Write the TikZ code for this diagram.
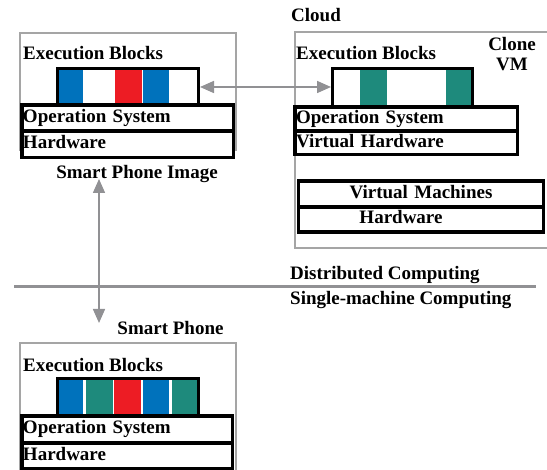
\documentclass[tikz,border=0pt]{standalone}
\usepackage{fontspec}
\setmainfont{Liberation Serif}
\usepackage{tikz}
\usetikzlibrary{arrows.meta,positioning}
\definecolor{blockblue}{RGB}{0,114,188}
\definecolor{blockred}{RGB}{237,28,36}
\definecolor{blockteal}{RGB}{30,138,124}
\definecolor{framegray}{RGB}{165,165,165}
\definecolor{arrowgray}{RGB}{145,145,148}

\begin{document}
\begin{tikzpicture}[x=1pt,y=-1pt,>={Triangle[length=14pt,width=12pt]},
  font=\fontsize{19}{20}\selectfont\bfseries,
  frame/.style={draw=framegray,line width=1.2pt},
  layer/.style={draw,line width=3.5pt,fill=white,outer sep=0pt,inner xsep=1pt,inner ysep=0pt,
    text height=13.5pt,text depth=4.5pt},
  strip/.style={draw,line width=3pt,fill=white,inner sep=0pt,anchor=north west},
  conn/.style={draw=arrowgray,line width=1.6pt,<->},
  lbl/.style={anchor=base west,inner sep=0pt}]
\useasboundingbox (0,0) rectangle (547,470);
% Smart phone image
\draw[frame] (20,33) rectangle (236,150);
\node[lbl] (lexec) at (23,60) {Execution Blocks};
\node[strip,minimum width=141pt,minimum height=36pt] (lstrip) at (56,67.5) {};
\foreach \a/\b/\c in {59/83/blockblue,115/142/blockred,143/169/blockblue}
  \fill[\c] (\a,70.5) rectangle (\b,103.5);
\node[layer,anchor=north west,text width=209.5pt,align=left,minimum height=26pt] (los) at (22,105) {Operation System};
\node[layer,below=0pt of los,text width=209.5pt,align=left,minimum height=26.5pt] (lhw) {Hardware};
\node[anchor=base,inner sep=0pt] (img) at (137,179) {Smart Phone Image};
% Cloud
\node[lbl] (cloud) at (291,22) {Cloud};
\draw[frame] (547,32) -- (295,32) -- (295,248) -- (547,248);
\node[lbl] (rexec) at (296,60) {Execution Blocks};
\node[align=center,inner sep=0pt] (clone) at (512,54) {Clone\\VM};
\node[strip,minimum width=140pt,minimum height=38pt] (rstrip) at (331,67.5) {};
\foreach \a/\b/\c in {360/386.7/blockteal,446/471/blockteal}
  \fill[\c] (\a,70.5) rectangle (\b,105);
\node[layer,anchor=north west,text width=220.5pt,align=left,minimum height=24pt] (ros) at (295,107) {Operation System};
\node[layer,below=0pt of ros,text width=220.5pt,align=left,minimum height=23.5pt] (rvhw) {Virtual Hardware};
\node[layer,anchor=north west,text width=243pt,align=center,minimum height=26pt] (vms) at (298.5,181) {Virtual Machines};
\node[layer,below=0pt of vms,text width=243pt,align=center,minimum height=25pt] (rhw) {\hspace*{-40pt}Hardware};
% offloading arrows
\draw[conn] (lstrip.east) -- (lstrip.east -| rstrip.west);
\coordinate (vtop) at (99,179);
\coordinate (vbot) at (99,323);
\draw[conn] (vtop) -- (vbot);
% divider
\draw[draw=arrowgray,line width=3pt] (14,287) -- (536,287);
\node[lbl] (dist) at (290,280) {Distributed Computing};
\node[lbl] (single) at (290,305) {Single-machine Computing};
% Smart phone
\node[anchor=base,inner sep=0pt] (phone) at (170.5,335) {Smart Phone};
\draw[frame] (20,343) rectangle (236,472);
\node[lbl] (bexec) at (23,372) {Execution Blocks};
\node[strip,minimum width=141pt,minimum height=37.5pt] (bstrip) at (56,377) {};
\foreach \a/\b/\c in {59/83/blockblue,86/113/blockteal,114/141/blockred,143/169/blockblue,172/197/blockteal}
  \fill[\c] (\a,380) rectangle (\b,414);
\node[layer,anchor=north west,text width=208.5pt,align=left,minimum height=27pt] (bos) at (22,416) {Operation System};
\node[layer,below=0pt of bos,text width=208.5pt,align=left,minimum height=25.5pt] (bhw) {Hardware};
\end{tikzpicture}
\end{document}
